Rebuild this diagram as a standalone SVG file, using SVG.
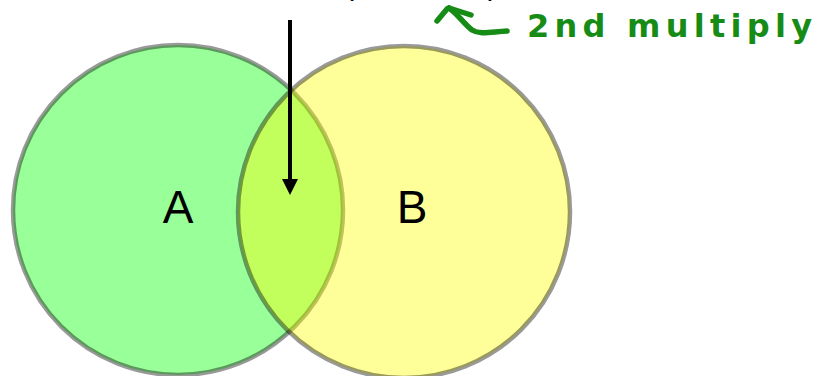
<svg xmlns="http://www.w3.org/2000/svg" width="820" height="376" viewBox="0 0 820 376">
<style>
.set{stroke:#000;stroke-opacity:0.4;stroke-width:4.5}
.lbl{font-family:"Liberation Sans",Arial,sans-serif;font-size:46px;fill:#000;text-anchor:middle}
.hand{fill:none;stroke:#168c16;stroke-width:5.5;stroke-linecap:round;stroke-linejoin:round}
</style>
<defs>
<marker id="ah" markerWidth="4" markerHeight="4" refX="1" refY="2" orient="auto" markerUnits="strokeWidth">
<path d="M0,0 L4,2 L0,4 Z" fill="#000"/>
</marker>
</defs>
<rect width="820" height="376" fill="#fff"/>
<g id="setA">
<circle class="set" cx="178" cy="210" r="165" fill="rgb(0,255,0)" fill-opacity="0.4"/>
<text class="lbl" x="178" y="223">A</text>
</g>
<g id="setB">
<circle class="set" cx="404" cy="212" r="166" fill="rgb(255,255,0)" fill-opacity="0.4"/>
<text class="lbl" x="412" y="223">B</text>
</g>
<g id="top-label">
<text x="344" y="-5" font-family="Liberation Sans, Arial, sans-serif" font-size="30" fill="#000">(</text>
<text x="488" y="-5" font-family="Liberation Sans, Arial, sans-serif" font-size="30" fill="#000">)</text>
</g>
<g id="connectors">
<line x1="290" y1="20" x2="290" y2="183" stroke="#000" stroke-width="4" marker-end="url(#ah)"/>
</g>
<g id="annotation">
<path class="hand" d="M507,31 C490,32 480,35 472,30 C464,24 456,12 449,8"/>
<path class="hand" d="M449,8 L471,15"/>
<path class="hand" d="M447,9 L437,21"/>
<text x="527" y="37" font-family="DejaVu Sans, sans-serif" font-size="32" font-weight="bold" fill="#168c16" textLength="285" lengthAdjust="spacing">2nd multiply</text>
</g>
</svg>
